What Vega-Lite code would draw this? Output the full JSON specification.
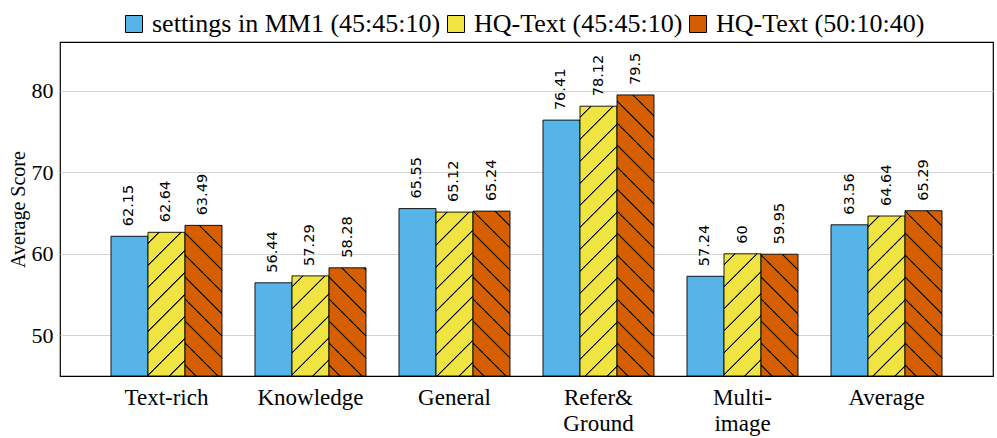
{
  "$schema": "https://vega.github.io/schema/vega-lite/v6.json",
  "width": 933,
  "height": 334,
  "autosize": {"type": "none"},
  "padding": {"left": 60, "top": 42, "right": 4, "bottom": 62},
  "background": "white",
  "config": {
    "view": {"stroke": "black", "strokeWidth": 1.2},
    "font": "Liberation Serif"
  },
  "data": {
    "values": [
      {"category": "Text-rich", "series": "settings in MM1 (45:45:10)", "score": 62.15},
      {"category": "Text-rich", "series": "HQ-Text (45:45:10)", "score": 62.64},
      {"category": "Text-rich", "series": "HQ-Text (50:10:40)", "score": 63.49},
      {"category": "Knowledge", "series": "settings in MM1 (45:45:10)", "score": 56.44},
      {"category": "Knowledge", "series": "HQ-Text (45:45:10)", "score": 57.29},
      {"category": "Knowledge", "series": "HQ-Text (50:10:40)", "score": 58.28},
      {"category": "General", "series": "settings in MM1 (45:45:10)", "score": 65.55},
      {"category": "General", "series": "HQ-Text (45:45:10)", "score": 65.12},
      {"category": "General", "series": "HQ-Text (50:10:40)", "score": 65.24},
      {"category": "Refer&|Ground", "series": "settings in MM1 (45:45:10)", "score": 76.41},
      {"category": "Refer&|Ground", "series": "HQ-Text (45:45:10)", "score": 78.12},
      {"category": "Refer&|Ground", "series": "HQ-Text (50:10:40)", "score": 79.5},
      {"category": "Multi-|image", "series": "settings in MM1 (45:45:10)", "score": 57.24},
      {"category": "Multi-|image", "series": "HQ-Text (45:45:10)", "score": 60},
      {"category": "Multi-|image", "series": "HQ-Text (50:10:40)", "score": 59.95},
      {"category": "Average", "series": "settings in MM1 (45:45:10)", "score": 63.56},
      {"category": "Average", "series": "HQ-Text (45:45:10)", "score": 64.64},
      {"category": "Average", "series": "HQ-Text (50:10:40)", "score": 65.29}
    ]
  },
  "encoding": {
    "x": {
      "field": "category",
      "type": "nominal",
      "sort": null,
      "scale": {"paddingInner": 0.229, "paddingOuter": 0.354},
      "axis": {
        "title": null,
        "labelAngle": 0,
        "labelExpr": "split(datum.label, '|')",
        "labelFont": "Liberation Serif",
        "labelFontSize": 23,
        "labelColor": "black",
        "labelLineHeight": 26,
        "labelPadding": 10,
        "ticks": false,
        "domain": false
      }
    },
    "xOffset": {
      "field": "series",
      "type": "nominal",
      "sort": ["settings in MM1 (45:45:10)", "HQ-Text (45:45:10)", "HQ-Text (50:10:40)"],
      "scale": {"paddingInner": 0, "paddingOuter": 0}
    },
    "y": {
      "field": "score",
      "type": "quantitative",
      "scale": {"domain": [45, 86], "zero": false, "nice": false},
      "axis": {
        "title": "Average Score",
        "titleFont": "Liberation Serif",
        "titleFontSize": 20,
        "titleFontWeight": "normal",
        "titleColor": "black",
        "titlePadding": 3,
        "values": [50, 60, 70, 80],
        "labelFont": "Liberation Serif",
        "labelFontSize": 22,
        "labelColor": "black",
        "labelPadding": 7,
        "ticks": false,
        "domain": false,
        "grid": true,
        "gridColor": "#d4d4d4",
        "gridWidth": 1
      }
    }
  },
  "layer": [
    {
      "mark": {"type": "bar", "stroke": "black", "strokeWidth": 0.9, "clip": true},
      "encoding": {
        "y2": {"datum": 45},
        "fill": {
          "condition": [
            {"test": "datum.category == 'Text-rich' && datum.series == 'HQ-Text (45:45:10)'", "value": {"gradient": "linear", "x1": 0, "y1": 0, "x2": 0.6722, "y2": 2.6105, "stops": [{"offset":0.0245,"color":"#f0e442"},{"offset":0.0265,"color":"#000"},{"offset":0.0285,"color":"#000"},{"offset":0.0305,"color":"#f0e442"},{"offset":0.0795,"color":"#f0e442"},{"offset":0.0815,"color":"#000"},{"offset":0.0835,"color":"#000"},{"offset":0.0855,"color":"#f0e442"},{"offset":0.1345,"color":"#f0e442"},{"offset":0.1365,"color":"#000"},{"offset":0.1385,"color":"#000"},{"offset":0.1405,"color":"#f0e442"},{"offset":0.1895,"color":"#f0e442"},{"offset":0.1915,"color":"#000"},{"offset":0.1935,"color":"#000"},{"offset":0.1955,"color":"#f0e442"},{"offset":0.2445,"color":"#f0e442"},{"offset":0.2465,"color":"#000"},{"offset":0.2485,"color":"#000"},{"offset":0.2505,"color":"#f0e442"},{"offset":0.2995,"color":"#f0e442"},{"offset":0.3015,"color":"#000"},{"offset":0.3035,"color":"#000"},{"offset":0.3055,"color":"#f0e442"},{"offset":0.3545,"color":"#f0e442"},{"offset":0.3565,"color":"#000"},{"offset":0.3585,"color":"#000"},{"offset":0.3605,"color":"#f0e442"},{"offset":0.4095,"color":"#f0e442"},{"offset":0.4115,"color":"#000"},{"offset":0.4135,"color":"#000"},{"offset":0.4155,"color":"#f0e442"},{"offset":0.4645,"color":"#f0e442"},{"offset":0.4665,"color":"#000"},{"offset":0.4685,"color":"#000"},{"offset":0.4705,"color":"#f0e442"},{"offset":0.5195,"color":"#f0e442"},{"offset":0.5215,"color":"#000"},{"offset":0.5235,"color":"#000"},{"offset":0.5255,"color":"#f0e442"}]}},
            {"test": "datum.category == 'Knowledge' && datum.series == 'HQ-Text (45:45:10)'", "value": {"gradient": "linear", "x1": 0, "y1": 0, "x2": 1.2990, "y2": 3.5151, "stops": [{"offset":0.0245,"color":"#f0e442"},{"offset":0.0265,"color":"#000"},{"offset":0.0285,"color":"#000"},{"offset":0.0305,"color":"#f0e442"},{"offset":0.0795,"color":"#f0e442"},{"offset":0.0815,"color":"#000"},{"offset":0.0835,"color":"#000"},{"offset":0.0855,"color":"#f0e442"},{"offset":0.1345,"color":"#f0e442"},{"offset":0.1365,"color":"#000"},{"offset":0.1385,"color":"#000"},{"offset":0.1405,"color":"#f0e442"},{"offset":0.1895,"color":"#f0e442"},{"offset":0.1915,"color":"#000"},{"offset":0.1935,"color":"#000"},{"offset":0.1955,"color":"#f0e442"},{"offset":0.2445,"color":"#f0e442"},{"offset":0.2465,"color":"#000"},{"offset":0.2485,"color":"#000"},{"offset":0.2505,"color":"#f0e442"},{"offset":0.2995,"color":"#f0e442"},{"offset":0.3015,"color":"#000"},{"offset":0.3035,"color":"#000"},{"offset":0.3055,"color":"#f0e442"},{"offset":0.3545,"color":"#f0e442"},{"offset":0.3565,"color":"#000"},{"offset":0.3585,"color":"#000"},{"offset":0.3605,"color":"#f0e442"}]}},
            {"test": "datum.category == 'General' && datum.series == 'HQ-Text (45:45:10)'", "value": {"gradient": "linear", "x1": 0, "y1": 0, "x2": 0.5242, "y2": 2.3222, "stops": [{"offset":0.0245,"color":"#f0e442"},{"offset":0.0265,"color":"#000"},{"offset":0.0285,"color":"#000"},{"offset":0.0305,"color":"#f0e442"},{"offset":0.0795,"color":"#f0e442"},{"offset":0.0815,"color":"#000"},{"offset":0.0835,"color":"#000"},{"offset":0.0855,"color":"#f0e442"},{"offset":0.1345,"color":"#f0e442"},{"offset":0.1365,"color":"#000"},{"offset":0.1385,"color":"#000"},{"offset":0.1405,"color":"#f0e442"},{"offset":0.1895,"color":"#f0e442"},{"offset":0.1915,"color":"#000"},{"offset":0.1935,"color":"#000"},{"offset":0.1955,"color":"#f0e442"},{"offset":0.2445,"color":"#f0e442"},{"offset":0.2465,"color":"#000"},{"offset":0.2485,"color":"#000"},{"offset":0.2505,"color":"#f0e442"},{"offset":0.2995,"color":"#f0e442"},{"offset":0.3015,"color":"#000"},{"offset":0.3035,"color":"#000"},{"offset":0.3055,"color":"#f0e442"},{"offset":0.3545,"color":"#f0e442"},{"offset":0.3565,"color":"#000"},{"offset":0.3585,"color":"#000"},{"offset":0.3605,"color":"#f0e442"},{"offset":0.4095,"color":"#f0e442"},{"offset":0.4115,"color":"#000"},{"offset":0.4135,"color":"#000"},{"offset":0.4155,"color":"#f0e442"},{"offset":0.4645,"color":"#f0e442"},{"offset":0.4665,"color":"#000"},{"offset":0.4685,"color":"#000"},{"offset":0.4705,"color":"#f0e442"},{"offset":0.5195,"color":"#f0e442"},{"offset":0.5215,"color":"#000"},{"offset":0.5235,"color":"#000"},{"offset":0.5255,"color":"#f0e442"}]}},
            {"test": "datum.category == 'Refer&|Ground' && datum.series == 'HQ-Text (45:45:10)'", "value": {"gradient": "linear", "x1": 0, "y1": 0, "x2": 0.19955, "y2": 1.45517, "stops": [{"offset":0.0245,"color":"#f0e442"},{"offset":0.0265,"color":"#000"},{"offset":0.0285,"color":"#000"},{"offset":0.0305,"color":"#f0e442"},{"offset":0.0795,"color":"#f0e442"},{"offset":0.0815,"color":"#000"},{"offset":0.0835,"color":"#000"},{"offset":0.0855,"color":"#f0e442"},{"offset":0.1345,"color":"#f0e442"},{"offset":0.1365,"color":"#000"},{"offset":0.1385,"color":"#000"},{"offset":0.1405,"color":"#f0e442"},{"offset":0.1895,"color":"#f0e442"},{"offset":0.1915,"color":"#000"},{"offset":0.1935,"color":"#000"},{"offset":0.1955,"color":"#f0e442"},{"offset":0.2445,"color":"#f0e442"},{"offset":0.2465,"color":"#000"},{"offset":0.2485,"color":"#000"},{"offset":0.2505,"color":"#f0e442"},{"offset":0.2995,"color":"#f0e442"},{"offset":0.3015,"color":"#000"},{"offset":0.3035,"color":"#000"},{"offset":0.3055,"color":"#f0e442"},{"offset":0.3545,"color":"#f0e442"},{"offset":0.3565,"color":"#000"},{"offset":0.3585,"color":"#000"},{"offset":0.3605,"color":"#f0e442"},{"offset":0.4095,"color":"#f0e442"},{"offset":0.4115,"color":"#000"},{"offset":0.4135,"color":"#000"},{"offset":0.4155,"color":"#f0e442"},{"offset":0.4645,"color":"#f0e442"},{"offset":0.4665,"color":"#000"},{"offset":0.4685,"color":"#000"},{"offset":0.4705,"color":"#f0e442"},{"offset":0.5195,"color":"#f0e442"},{"offset":0.5215,"color":"#000"},{"offset":0.5235,"color":"#000"},{"offset":0.5255,"color":"#f0e442"},{"offset":0.5745,"color":"#f0e442"},{"offset":0.5765,"color":"#000"},{"offset":0.5785,"color":"#000"},{"offset":0.5805,"color":"#f0e442"},{"offset":0.6295,"color":"#f0e442"},{"offset":0.6315,"color":"#000"},{"offset":0.6335,"color":"#000"},{"offset":0.6355,"color":"#f0e442"},{"offset":0.6845,"color":"#f0e442"},{"offset":0.6865,"color":"#000"},{"offset":0.6885,"color":"#000"},{"offset":0.6905,"color":"#f0e442"},{"offset":0.7395,"color":"#f0e442"},{"offset":0.7415,"color":"#000"},{"offset":0.7435,"color":"#000"},{"offset":0.7455,"color":"#f0e442"},{"offset":0.7945,"color":"#f0e442"},{"offset":0.7965,"color":"#000"},{"offset":0.7985,"color":"#000"},{"offset":0.8005,"color":"#f0e442"}]}},
            {"test": "datum.category == 'Multi-|image' && datum.series == 'HQ-Text (45:45:10)'", "value": {"gradient": "linear", "x1": 0, "y1": 0, "x2": 0.9080, "y2": 2.9986, "stops": [{"offset":0.0245,"color":"#f0e442"},{"offset":0.0265,"color":"#000"},{"offset":0.0285,"color":"#000"},{"offset":0.0305,"color":"#f0e442"},{"offset":0.0795,"color":"#f0e442"},{"offset":0.0815,"color":"#000"},{"offset":0.0835,"color":"#000"},{"offset":0.0855,"color":"#f0e442"},{"offset":0.1345,"color":"#f0e442"},{"offset":0.1365,"color":"#000"},{"offset":0.1385,"color":"#000"},{"offset":0.1405,"color":"#f0e442"},{"offset":0.1895,"color":"#f0e442"},{"offset":0.1915,"color":"#000"},{"offset":0.1935,"color":"#000"},{"offset":0.1955,"color":"#f0e442"},{"offset":0.2445,"color":"#f0e442"},{"offset":0.2465,"color":"#000"},{"offset":0.2485,"color":"#000"},{"offset":0.2505,"color":"#f0e442"},{"offset":0.2995,"color":"#f0e442"},{"offset":0.3015,"color":"#000"},{"offset":0.3035,"color":"#000"},{"offset":0.3055,"color":"#f0e442"},{"offset":0.3545,"color":"#f0e442"},{"offset":0.3565,"color":"#000"},{"offset":0.3585,"color":"#000"},{"offset":0.3605,"color":"#f0e442"},{"offset":0.4095,"color":"#f0e442"},{"offset":0.4115,"color":"#000"},{"offset":0.4135,"color":"#000"},{"offset":0.4155,"color":"#f0e442"}]}},
            {"test": "datum.category == 'Average' && datum.series == 'HQ-Text (45:45:10)'", "value": {"gradient": "linear", "x1": 0, "y1": 0, "x2": 0.5489, "y2": 2.3733, "stops": [{"offset":0.0245,"color":"#f0e442"},{"offset":0.0265,"color":"#000"},{"offset":0.0285,"color":"#000"},{"offset":0.0305,"color":"#f0e442"},{"offset":0.0795,"color":"#f0e442"},{"offset":0.0815,"color":"#000"},{"offset":0.0835,"color":"#000"},{"offset":0.0855,"color":"#f0e442"},{"offset":0.1345,"color":"#f0e442"},{"offset":0.1365,"color":"#000"},{"offset":0.1385,"color":"#000"},{"offset":0.1405,"color":"#f0e442"},{"offset":0.1895,"color":"#f0e442"},{"offset":0.1915,"color":"#000"},{"offset":0.1935,"color":"#000"},{"offset":0.1955,"color":"#f0e442"},{"offset":0.2445,"color":"#f0e442"},{"offset":0.2465,"color":"#000"},{"offset":0.2485,"color":"#000"},{"offset":0.2505,"color":"#f0e442"},{"offset":0.2995,"color":"#f0e442"},{"offset":0.3015,"color":"#000"},{"offset":0.3035,"color":"#000"},{"offset":0.3055,"color":"#f0e442"},{"offset":0.3545,"color":"#f0e442"},{"offset":0.3565,"color":"#000"},{"offset":0.3585,"color":"#000"},{"offset":0.3605,"color":"#f0e442"},{"offset":0.4095,"color":"#f0e442"},{"offset":0.4115,"color":"#000"},{"offset":0.4135,"color":"#000"},{"offset":0.4155,"color":"#f0e442"},{"offset":0.4645,"color":"#f0e442"},{"offset":0.4665,"color":"#000"},{"offset":0.4685,"color":"#000"},{"offset":0.4705,"color":"#f0e442"},{"offset":0.5195,"color":"#f0e442"},{"offset":0.5215,"color":"#000"},{"offset":0.5235,"color":"#000"},{"offset":0.5255,"color":"#f0e442"}]}},
            {"test": "datum.category == 'Text-rich' && datum.series == 'HQ-Text (50:10:40)'", "value": {"gradient": "linear", "x1": 0, "y1": 1, "x2": 0.6152, "y2": -1.5044, "stops": [{"offset":0.0245,"color":"#d55e00"},{"offset":0.0265,"color":"#000"},{"offset":0.0285,"color":"#000"},{"offset":0.0305,"color":"#d55e00"},{"offset":0.0795,"color":"#d55e00"},{"offset":0.0815,"color":"#000"},{"offset":0.0835,"color":"#000"},{"offset":0.0855,"color":"#d55e00"},{"offset":0.1345,"color":"#d55e00"},{"offset":0.1365,"color":"#000"},{"offset":0.1385,"color":"#000"},{"offset":0.1405,"color":"#d55e00"},{"offset":0.1895,"color":"#d55e00"},{"offset":0.1915,"color":"#000"},{"offset":0.1935,"color":"#000"},{"offset":0.1955,"color":"#d55e00"},{"offset":0.2445,"color":"#d55e00"},{"offset":0.2465,"color":"#000"},{"offset":0.2485,"color":"#000"},{"offset":0.2505,"color":"#d55e00"},{"offset":0.2995,"color":"#d55e00"},{"offset":0.3015,"color":"#000"},{"offset":0.3035,"color":"#000"},{"offset":0.3055,"color":"#d55e00"},{"offset":0.3545,"color":"#d55e00"},{"offset":0.3565,"color":"#000"},{"offset":0.3585,"color":"#000"},{"offset":0.3605,"color":"#d55e00"},{"offset":0.4095,"color":"#d55e00"},{"offset":0.4115,"color":"#000"},{"offset":0.4135,"color":"#000"},{"offset":0.4155,"color":"#d55e00"},{"offset":0.4645,"color":"#d55e00"},{"offset":0.4665,"color":"#000"},{"offset":0.4685,"color":"#000"},{"offset":0.4705,"color":"#d55e00"},{"offset":0.5195,"color":"#d55e00"},{"offset":0.5215,"color":"#000"},{"offset":0.5235,"color":"#000"},{"offset":0.5255,"color":"#d55e00"}]}},
            {"test": "datum.category == 'Knowledge' && datum.series == 'HQ-Text (50:10:40)'", "value": {"gradient": "linear", "x1": 0, "y1": 1, "x2": 1.1322, "y2": -2.3103, "stops": [{"offset":0.0245,"color":"#d55e00"},{"offset":0.0265,"color":"#000"},{"offset":0.0285,"color":"#000"},{"offset":0.0305,"color":"#d55e00"},{"offset":0.0795,"color":"#d55e00"},{"offset":0.0815,"color":"#000"},{"offset":0.0835,"color":"#000"},{"offset":0.0855,"color":"#d55e00"},{"offset":0.1345,"color":"#d55e00"},{"offset":0.1365,"color":"#000"},{"offset":0.1385,"color":"#000"},{"offset":0.1405,"color":"#d55e00"},{"offset":0.1895,"color":"#d55e00"},{"offset":0.1915,"color":"#000"},{"offset":0.1935,"color":"#000"},{"offset":0.1955,"color":"#d55e00"},{"offset":0.2445,"color":"#d55e00"},{"offset":0.2465,"color":"#000"},{"offset":0.2485,"color":"#000"},{"offset":0.2505,"color":"#d55e00"},{"offset":0.2995,"color":"#d55e00"},{"offset":0.3015,"color":"#000"},{"offset":0.3035,"color":"#000"},{"offset":0.3055,"color":"#d55e00"},{"offset":0.3545,"color":"#d55e00"},{"offset":0.3565,"color":"#000"},{"offset":0.3585,"color":"#000"},{"offset":0.3605,"color":"#d55e00"},{"offset":0.4095,"color":"#d55e00"},{"offset":0.4115,"color":"#000"},{"offset":0.4135,"color":"#000"},{"offset":0.4155,"color":"#d55e00"}]}},
            {"test": "datum.category == 'General' && datum.series == 'HQ-Text (50:10:40)'", "value": {"gradient": "linear", "x1": 0, "y1": 1, "x2": 0.5183, "y2": -1.3097, "stops": [{"offset":0.0245,"color":"#d55e00"},{"offset":0.0265,"color":"#000"},{"offset":0.0285,"color":"#000"},{"offset":0.0305,"color":"#d55e00"},{"offset":0.0795,"color":"#d55e00"},{"offset":0.0815,"color":"#000"},{"offset":0.0835,"color":"#000"},{"offset":0.0855,"color":"#d55e00"},{"offset":0.1345,"color":"#d55e00"},{"offset":0.1365,"color":"#000"},{"offset":0.1385,"color":"#000"},{"offset":0.1405,"color":"#d55e00"},{"offset":0.1895,"color":"#d55e00"},{"offset":0.1915,"color":"#000"},{"offset":0.1935,"color":"#000"},{"offset":0.1955,"color":"#d55e00"},{"offset":0.2445,"color":"#d55e00"},{"offset":0.2465,"color":"#000"},{"offset":0.2485,"color":"#000"},{"offset":0.2505,"color":"#d55e00"},{"offset":0.2995,"color":"#d55e00"},{"offset":0.3015,"color":"#000"},{"offset":0.3035,"color":"#000"},{"offset":0.3055,"color":"#d55e00"},{"offset":0.3545,"color":"#d55e00"},{"offset":0.3565,"color":"#000"},{"offset":0.3585,"color":"#000"},{"offset":0.3605,"color":"#d55e00"},{"offset":0.4095,"color":"#d55e00"},{"offset":0.4115,"color":"#000"},{"offset":0.4135,"color":"#000"},{"offset":0.4155,"color":"#d55e00"},{"offset":0.4645,"color":"#d55e00"},{"offset":0.4665,"color":"#000"},{"offset":0.4685,"color":"#000"},{"offset":0.4705,"color":"#d55e00"},{"offset":0.5195,"color":"#d55e00"},{"offset":0.5215,"color":"#000"},{"offset":0.5235,"color":"#000"},{"offset":0.5255,"color":"#d55e00"}]}},
            {"test": "datum.category == 'Refer&|Ground' && datum.series == 'HQ-Text (50:10:40)'", "value": {"gradient": "linear", "x1": 0, "y1": 1, "x2": 0.18418, "y2": -0.39898, "stops": [{"offset":0.0245,"color":"#d55e00"},{"offset":0.0265,"color":"#000"},{"offset":0.0285,"color":"#000"},{"offset":0.0305,"color":"#d55e00"},{"offset":0.0795,"color":"#d55e00"},{"offset":0.0815,"color":"#000"},{"offset":0.0835,"color":"#000"},{"offset":0.0855,"color":"#d55e00"},{"offset":0.1345,"color":"#d55e00"},{"offset":0.1365,"color":"#000"},{"offset":0.1385,"color":"#000"},{"offset":0.1405,"color":"#d55e00"},{"offset":0.1895,"color":"#d55e00"},{"offset":0.1915,"color":"#000"},{"offset":0.1935,"color":"#000"},{"offset":0.1955,"color":"#d55e00"},{"offset":0.2445,"color":"#d55e00"},{"offset":0.2465,"color":"#000"},{"offset":0.2485,"color":"#000"},{"offset":0.2505,"color":"#d55e00"},{"offset":0.2995,"color":"#d55e00"},{"offset":0.3015,"color":"#000"},{"offset":0.3035,"color":"#000"},{"offset":0.3055,"color":"#d55e00"},{"offset":0.3545,"color":"#d55e00"},{"offset":0.3565,"color":"#000"},{"offset":0.3585,"color":"#000"},{"offset":0.3605,"color":"#d55e00"},{"offset":0.4095,"color":"#d55e00"},{"offset":0.4115,"color":"#000"},{"offset":0.4135,"color":"#000"},{"offset":0.4155,"color":"#d55e00"},{"offset":0.4645,"color":"#d55e00"},{"offset":0.4665,"color":"#000"},{"offset":0.4685,"color":"#000"},{"offset":0.4705,"color":"#d55e00"},{"offset":0.5195,"color":"#d55e00"},{"offset":0.5215,"color":"#000"},{"offset":0.5235,"color":"#000"},{"offset":0.5255,"color":"#d55e00"},{"offset":0.5745,"color":"#d55e00"},{"offset":0.5765,"color":"#000"},{"offset":0.5785,"color":"#000"},{"offset":0.5805,"color":"#d55e00"},{"offset":0.6295,"color":"#d55e00"},{"offset":0.6315,"color":"#000"},{"offset":0.6335,"color":"#000"},{"offset":0.6355,"color":"#d55e00"},{"offset":0.6845,"color":"#d55e00"},{"offset":0.6865,"color":"#000"},{"offset":0.6885,"color":"#000"},{"offset":0.6905,"color":"#d55e00"},{"offset":0.7395,"color":"#d55e00"},{"offset":0.7415,"color":"#000"},{"offset":0.7435,"color":"#000"},{"offset":0.7455,"color":"#d55e00"},{"offset":0.7945,"color":"#d55e00"},{"offset":0.7965,"color":"#000"},{"offset":0.7985,"color":"#000"},{"offset":0.8005,"color":"#d55e00"}]}},
            {"test": "datum.category == 'Multi-|image' && datum.series == 'HQ-Text (50:10:40)'", "value": {"gradient": "linear", "x1": 0, "y1": 1, "x2": 0.9135, "y2": -2.0069, "stops": [{"offset":0.0245,"color":"#d55e00"},{"offset":0.0265,"color":"#000"},{"offset":0.0285,"color":"#000"},{"offset":0.0305,"color":"#d55e00"},{"offset":0.0795,"color":"#d55e00"},{"offset":0.0815,"color":"#000"},{"offset":0.0835,"color":"#000"},{"offset":0.0855,"color":"#d55e00"},{"offset":0.1345,"color":"#d55e00"},{"offset":0.1365,"color":"#000"},{"offset":0.1385,"color":"#000"},{"offset":0.1405,"color":"#d55e00"},{"offset":0.1895,"color":"#d55e00"},{"offset":0.1915,"color":"#000"},{"offset":0.1935,"color":"#000"},{"offset":0.1955,"color":"#d55e00"},{"offset":0.2445,"color":"#d55e00"},{"offset":0.2465,"color":"#000"},{"offset":0.2485,"color":"#000"},{"offset":0.2505,"color":"#d55e00"},{"offset":0.2995,"color":"#d55e00"},{"offset":0.3015,"color":"#000"},{"offset":0.3035,"color":"#000"},{"offset":0.3055,"color":"#d55e00"},{"offset":0.3545,"color":"#d55e00"},{"offset":0.3565,"color":"#000"},{"offset":0.3585,"color":"#000"},{"offset":0.3605,"color":"#d55e00"},{"offset":0.4095,"color":"#d55e00"},{"offset":0.4115,"color":"#000"},{"offset":0.4135,"color":"#000"},{"offset":0.4155,"color":"#d55e00"}]}},
            {"test": "datum.category == 'Average' && datum.series == 'HQ-Text (50:10:40)'", "value": {"gradient": "linear", "x1": 0, "y1": 1, "x2": 0.5159, "y2": -1.3045, "stops": [{"offset":0.0245,"color":"#d55e00"},{"offset":0.0265,"color":"#000"},{"offset":0.0285,"color":"#000"},{"offset":0.0305,"color":"#d55e00"},{"offset":0.0795,"color":"#d55e00"},{"offset":0.0815,"color":"#000"},{"offset":0.0835,"color":"#000"},{"offset":0.0855,"color":"#d55e00"},{"offset":0.1345,"color":"#d55e00"},{"offset":0.1365,"color":"#000"},{"offset":0.1385,"color":"#000"},{"offset":0.1405,"color":"#d55e00"},{"offset":0.1895,"color":"#d55e00"},{"offset":0.1915,"color":"#000"},{"offset":0.1935,"color":"#000"},{"offset":0.1955,"color":"#d55e00"},{"offset":0.2445,"color":"#d55e00"},{"offset":0.2465,"color":"#000"},{"offset":0.2485,"color":"#000"},{"offset":0.2505,"color":"#d55e00"},{"offset":0.2995,"color":"#d55e00"},{"offset":0.3015,"color":"#000"},{"offset":0.3035,"color":"#000"},{"offset":0.3055,"color":"#d55e00"},{"offset":0.3545,"color":"#d55e00"},{"offset":0.3565,"color":"#000"},{"offset":0.3585,"color":"#000"},{"offset":0.3605,"color":"#d55e00"},{"offset":0.4095,"color":"#d55e00"},{"offset":0.4115,"color":"#000"},{"offset":0.4135,"color":"#000"},{"offset":0.4155,"color":"#d55e00"},{"offset":0.4645,"color":"#d55e00"},{"offset":0.4665,"color":"#000"},{"offset":0.4685,"color":"#000"},{"offset":0.4705,"color":"#d55e00"},{"offset":0.5195,"color":"#d55e00"},{"offset":0.5215,"color":"#000"},{"offset":0.5235,"color":"#000"},{"offset":0.5255,"color":"#d55e00"}]}}
          ],
          "field": "series",
          "type": "nominal",
          "sort": ["settings in MM1 (45:45:10)", "HQ-Text (45:45:10)", "HQ-Text (50:10:40)"],
          "scale": {
            "domain": ["settings in MM1 (45:45:10)", "HQ-Text (45:45:10)", "HQ-Text (50:10:40)"],
            "range": ["#56b4e9", "#f0e442", "#d55e00"]
          },
          "legend": {
            "title": null,
            "orient": "none",
            "direction": "horizontal",
            "legendX": 61,
            "legendY": -31,
            "symbolType": "square",
            "symbolSize": 289,
            "symbolStrokeColor": "black",
            "symbolStrokeWidth": 1,
            "symbolOpacity": 1,
            "labelFont": "Liberation Serif",
            "labelFontSize": 26,
            "labelColor": "black",
            "labelOffset": 5,
            "labelLimit": 400,
            "columnPadding": 2,
            "padding": 0,
            "encode": {
              "symbols": {
                "update": {
                  "stroke": {"value": "black"},
                  "strokeWidth": {"value": 1},
                  "opacity": {"value": 1},
                  "fill": [
                    {"test": "datum.value == 'HQ-Text (45:45:10)'", "value": {"gradient": "linear", "x1": 0, "y1": 0, "x2": 1, "y2": 1, "stops": [{"offset":0.46,"color":"#f0e442"},{"offset":0.48,"color":"#000"},{"offset":0.52,"color":"#000"},{"offset":0.54,"color":"#f0e442"}]}},
                    {"test": "datum.value == 'HQ-Text (50:10:40)'", "value": {"gradient": "linear", "x1": 0, "y1": 1, "x2": 1, "y2": 0, "stops": [{"offset":0.46,"color":"#d55e00"},{"offset":0.48,"color":"#000"},{"offset":0.52,"color":"#000"},{"offset":0.54,"color":"#d55e00"}]}},
                    {"value": "#56b4e9"}
                  ]
                }
              }
            }
          }
        }
      }
    },
    {
      "mark": {
        "type": "text",
        "angle": 270,
        "align": "left",
        "baseline": "middle",
        "dx": 10,
        "font": "DejaVu Sans",
        "fontSize": 14.5,
        "color": "black"
      },
      "encoding": {
        "text": {"field": "score", "type": "quantitative"}
      }
    }
  ]
}
